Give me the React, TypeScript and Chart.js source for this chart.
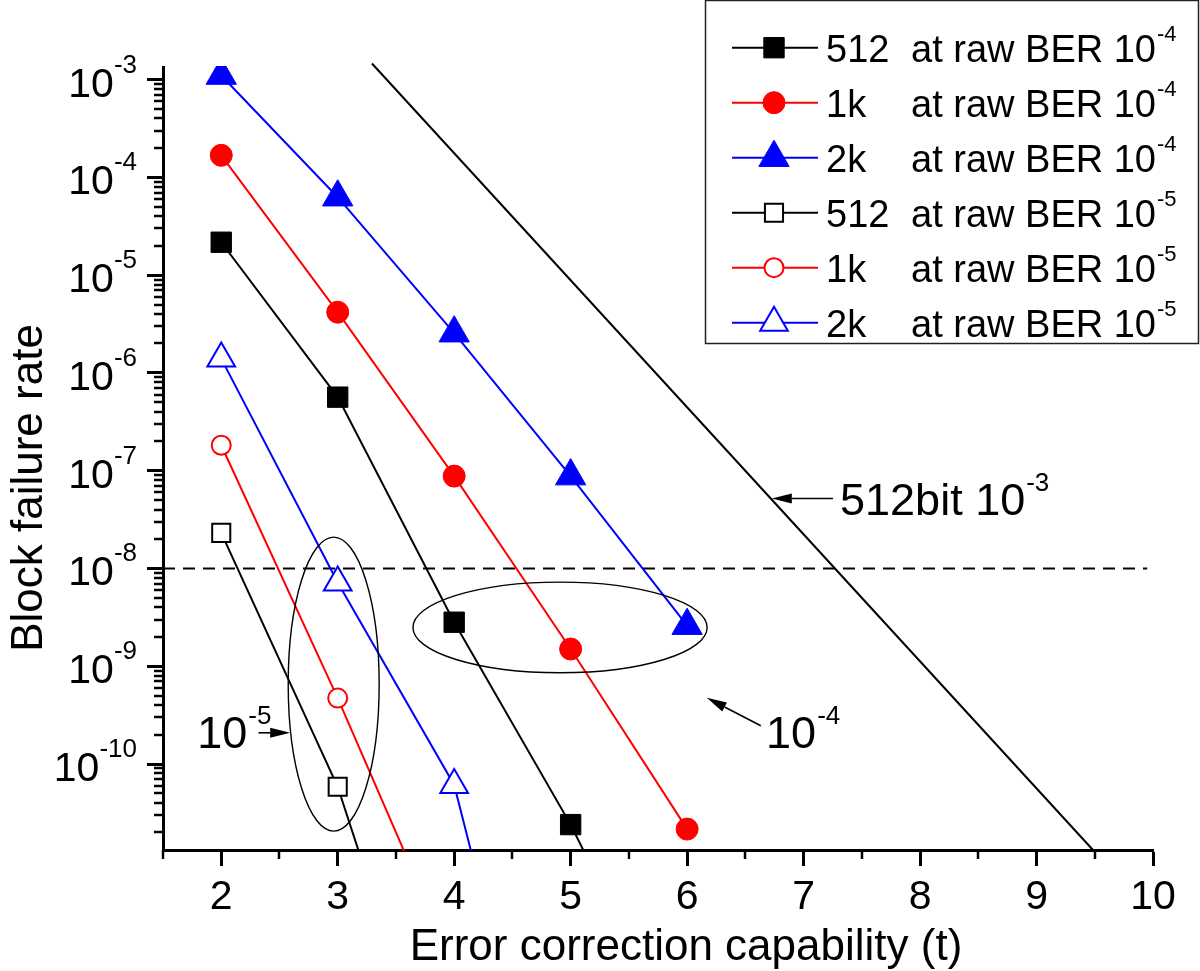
import React, { useEffect, useRef } from 'react';
import { Chart, registerables } from 'chart.js';

Chart.register(...registerables);

const FONT = '"Liberation Sans", Arial, Helvetica, sans-serif';

// ---- data ----
const tValues = [2, 3, 4, 5, 6];
const rate512Ber4 = [2.17e-5, 5.65e-7, 2.82e-9, 2.4e-11, 9.6e-14];
const rate1kBer4 = [1.68e-4, 4.18e-6, 8.8e-8, 1.5e-9, 2.16e-11];
const rate2kBer4 = [1.1e-3, 6.27e-5, 2.55e-6, 8.8e-8, 2.6e-9];
const rate512Ber5 = [2.31e-8, 5.85e-11, 1.3e-14];
const rate1kBer5 = [1.82e-7, 4.72e-10, 8.5e-13];
const rate2kBer5 = [1.4e-6, 7.2e-9, 6.1e-11, 1.3e-15];

const ref512bitT = [3.294, 9.485];
const ref512bitRate = [1.46e-3, 1.32e-11];
const thresholdT = [1.5, 9.95];
const thresholdRate = [1e-8, 1e-8];

const seriesNames = ['512', '1k', '2k', '512', '1k', '2k'];
const seriesBerExp = ['-4', '-4', '-4', '-5', '-5', '-5'];

const yDecadeExps = [-3, -4, -5, -6, -7, -8, -9, -10];
const X_MIN = 1.5;
const X_MAX = 10;
const Y_MIN = 1.32e-11;
const Y_MAX = 1.345e-3;

// annotations in data coordinates (t, log10 rate)
const ellipseT = [[2.575, 3.356], [3.646, 6.172]];
const ellipseLog = [[-7.68, -10.686], [-8.14, -9.067]];
const arrowTailT = [7.253, 6.633, 2.32];
const arrowTailLog = [-7.284, -9.609, -9.681];
const arrowHeadT = [6.727, 6.169, 2.592];
const arrowHeadLog = [-7.284, -9.323, -9.681];
const noteT = [7.313, 6.678, 1.794];
const noteLog = [-7.455, -9.84, -9.84];
const noteMain = ['512bit 10', '10', '10'];
const noteSup = ['-3', '-4', '-5'];

const mk = (xs: number[], ys: number[]) => xs.map((x, i) => ({ x, y: ys[i] }));

function drawMarker(ctx: CanvasRenderingContext2D, style: string, x: number, y: number, r: number, fill: string, stroke: string, lw: number) {
  ctx.beginPath();
  if (style === 'rect') {
    const s = Math.SQRT1_2 * r;
    ctx.rect(x - s, y - s, 2 * s, 2 * s);
  } else if (style === 'triangle') {
    let rad = 0;
    ctx.moveTo(x + Math.sin(rad) * r, y - Math.cos(rad) * r);
    rad += (2 * Math.PI) / 3;
    ctx.lineTo(x + Math.sin(rad) * r, y - Math.cos(rad) * r);
    rad += (2 * Math.PI) / 3;
    ctx.lineTo(x + Math.sin(rad) * r, y - Math.cos(rad) * r);
    ctx.closePath();
  } else {
    ctx.arc(x, y, r, 0, Math.PI * 2);
  }
  ctx.fillStyle = fill;
  ctx.fill();
  ctx.lineWidth = lw;
  ctx.strokeStyle = stroke;
  ctx.stroke();
}

function drawSupText(ctx: CanvasRenderingContext2D, x: number, baseline: number, main: string, sup: string, mainSize: number, supSize: number, supRise: number) {
  ctx.textAlign = 'left';
  ctx.textBaseline = 'alphabetic';
  ctx.font = `${mainSize}px ${FONT}`;
  ctx.fillText(main, x, baseline);
  const w = ctx.measureText(main).width;
  ctx.font = `${supSize}px ${FONT}`;
  ctx.fillText(sup, x + w + 1, baseline - supRise);
}

const decorPlugin = {
  id: 'decor',
  afterDatasetsDraw(chart: any) {
    const ctx: CanvasRenderingContext2D = chart.ctx;
    const xs = chart.scales.x;
    const ys = chart.scales.y;
    ctx.save();
    ctx.strokeStyle = '#000';
    ctx.fillStyle = '#000';
    // ellipses
    ellipseT.forEach((tt, i) => {
      const x1 = xs.getPixelForValue(tt[0]);
      const x2 = xs.getPixelForValue(tt[1]);
      const y1 = ys.getPixelForValue(Math.pow(10, ellipseLog[i][0]));
      const y2 = ys.getPixelForValue(Math.pow(10, ellipseLog[i][1]));
      ctx.beginPath();
      ctx.ellipse((x1 + x2) / 2, (y1 + y2) / 2, Math.abs(x2 - x1) / 2, Math.abs(y2 - y1) / 2, 0, 0, Math.PI * 2);
      ctx.lineWidth = 1.4;
      ctx.stroke();
    });
    // arrows
    arrowTailT.forEach((t, i) => {
      const x1 = xs.getPixelForValue(t);
      const y1 = ys.getPixelForValue(Math.pow(10, arrowTailLog[i]));
      const x2 = xs.getPixelForValue(arrowHeadT[i]);
      const y2 = ys.getPixelForValue(Math.pow(10, arrowHeadLog[i]));
      const ang = Math.atan2(y2 - y1, x2 - x1);
      const L = 20;
      const H = 5;
      const bx = x2 - Math.cos(ang) * L;
      const by = y2 - Math.sin(ang) * L;
      ctx.beginPath();
      ctx.moveTo(x1, y1);
      ctx.lineTo(bx, by);
      ctx.lineWidth = 1.6;
      ctx.stroke();
      ctx.beginPath();
      ctx.moveTo(x2, y2);
      ctx.lineTo(bx - Math.sin(ang) * H, by + Math.cos(ang) * H);
      ctx.lineTo(bx + Math.sin(ang) * H, by - Math.cos(ang) * H);
      ctx.closePath();
      ctx.fill();
    });
    // notes
    noteT.forEach((t, i) => {
      const x = xs.getPixelForValue(t);
      const y = ys.getPixelForValue(Math.pow(10, noteLog[i]));
      drawSupText(ctx, x, y, noteMain[i], noteSup[i], 45, 26, 24);
    });
    ctx.restore();
  },
  afterDraw(chart: any) {
    const ctx: CanvasRenderingContext2D = chart.ctx;
    const xs = chart.scales.x;
    const ys = chart.scales.y;
    const area = chart.chartArea;
    ctx.save();
    ctx.strokeStyle = '#000';
    ctx.fillStyle = '#000';
    ctx.lineWidth = 2.5;
    // minor ticks
    xs.ticks.forEach((tk: any) => {
      if (!Number.isInteger(tk.value)) {
        const px = Math.round(xs.getPixelForValue(tk.value));
        ctx.beginPath();
        ctx.moveTo(px, area.bottom);
        ctx.lineTo(px, area.bottom + 9);
        ctx.stroke();
      }
    });
    ys.ticks.forEach((tk: any) => {
      const lg = Math.log10(tk.value);
      if (Math.abs(lg - Math.round(lg)) > 1e-6) {
        const py = Math.round(ys.getPixelForValue(tk.value));
        ctx.beginPath();
        ctx.moveTo(area.left, py);
        ctx.lineTo(area.left - 9, py);
        ctx.stroke();
      }
    });
    // y tick labels with superscripts
    yDecadeExps.forEach((e) => {
      const py = ys.getPixelForValue(Math.pow(10, e));
      const sup = String(e);
      ctx.font = `26px ${FONT}`;
      const sw = ctx.measureText(sup).width;
      const right = 137;
      ctx.textBaseline = 'alphabetic';
      ctx.textAlign = 'left';
      ctx.fillText(sup, right - sw, py + 17 - 24);
      ctx.font = `41px ${FONT}`;
      ctx.textAlign = 'right';
      ctx.fillText('10', right - sw, py + 17);
    });
    // axis titles
    ctx.textAlign = 'center';
    ctx.textBaseline = 'alphabetic';
    ctx.font = `44px ${FONT}`;
    ctx.fillText('Error correction capability (t)', 686, 960);
    ctx.save();
    ctx.translate(42, 488);
    ctx.rotate(-Math.PI / 2);
    ctx.fillText('Block failure rate', 0, 0);
    ctx.restore();
    // legend
    ctx.lineWidth = 1.5;
    ctx.strokeStyle = '#222';
    ctx.strokeRect(705.5, 0.5, 493, 343);
    const ds = chart.data.datasets;
    seriesNames.forEach((name, i) => {
      const d = ds[i];
      const y = 47.7 + 55 * i;
      ctx.beginPath();
      ctx.moveTo(732, y);
      ctx.lineTo(818, y);
      ctx.lineWidth = d.borderWidth;
      ctx.strokeStyle = d.borderColor;
      ctx.stroke();
      drawMarker(ctx, d.pointStyle, 774, y, d.pointRadius, d.pointBackgroundColor, d.pointBorderColor, d.pointBorderWidth);
      ctx.fillStyle = '#000';
      ctx.textAlign = 'left';
      ctx.font = `38px ${FONT}`;
      ctx.fillText(name, 826, y + 14);
      drawSupText(ctx, 911, y + 14, 'at raw BER 10', seriesBerExp[i], 38, 22, 21);
    });
    ctx.restore();
  },
};

export default function App() {
  const ref = useRef<HTMLCanvasElement>(null);
  useEffect(() => {
    if (!ref.current) return;
    const black = '#000000';
    const red = '#ff0000';
    const blue = '#0000ff';
    const chart = new Chart(ref.current, {
      type: 'scatter',
      data: {
        datasets: [
          { label: '512 at raw BER 10^-4', data: mk(tValues, rate512Ber4), showLine: true, clip: 1, borderColor: black, borderWidth: 2, pointStyle: 'rect', pointRadius: 14.4, pointBackgroundColor: black, pointBorderColor: black, pointBorderWidth: 1 },
          { label: '1k at raw BER 10^-4', data: mk(tValues, rate1kBer4), showLine: true, clip: 1, borderColor: red, borderWidth: 2, pointStyle: 'circle', pointRadius: 11, pointBackgroundColor: red, pointBorderColor: red, pointBorderWidth: 1 },
          { label: '2k at raw BER 10^-4', data: mk(tValues, rate2kBer4), showLine: true, clip: 1, borderColor: blue, borderWidth: 2, pointStyle: 'triangle', pointRadius: 17.5, pointBackgroundColor: blue, pointBorderColor: blue, pointBorderWidth: 1 },
          { label: '512 at raw BER 10^-5', data: mk(tValues, rate512Ber5), showLine: true, clip: 1, borderColor: black, borderWidth: 2, pointStyle: 'rect', pointRadius: 12.8, pointBackgroundColor: '#ffffff', pointBorderColor: black, pointBorderWidth: 2 },
          { label: '1k at raw BER 10^-5', data: mk(tValues, rate1kBer5), showLine: true, clip: 1, borderColor: red, borderWidth: 2, pointStyle: 'circle', pointRadius: 9.5, pointBackgroundColor: '#ffffff', pointBorderColor: red, pointBorderWidth: 2 },
          { label: '2k at raw BER 10^-5', data: mk(tValues, rate2kBer5), showLine: true, clip: 1, borderColor: blue, borderWidth: 2, pointStyle: 'triangle', pointRadius: 16, pointBackgroundColor: '#ffffff', pointBorderColor: blue, pointBorderWidth: 2 },
          { label: '512bit 10^-3', data: mk(ref512bitT, ref512bitRate), showLine: true, borderColor: black, borderWidth: 2, pointRadius: 0, clip: false } as any,
          { label: '1e-8 threshold', data: mk(thresholdT, thresholdRate), showLine: true, clip: 1, borderColor: black, borderWidth: 2, borderDash: [12, 8], pointRadius: 0 },
        ],
      },
      options: {
        animation: false,
        responsive: false,
        devicePixelRatio: 1,
        events: [],
        layout: { padding: { top: 67, right: 47, left: 0, bottom: 0 } },
        plugins: { legend: { display: false }, tooltip: { enabled: false }, title: { display: false } },
        scales: {
          x: {
            type: 'linear',
            min: X_MIN,
            max: X_MAX,
            afterFit: (s: any) => { s.height = 121; },
            ticks: {
              stepSize: 0.5,
              autoSkip: false,
              maxRotation: 0,
              padding: 7,
              color: '#000',
              font: { family: FONT, size: 41 },
              callback: (v: any) => (Number.isInteger(Number(v)) ? String(v) : ''),
            },
            grid: {
              drawOnChartArea: false,
              drawTicks: true,
              tickLength: 16,
              tickWidth: 3,
              tickColor: (c: any) => (c.tick && Number.isInteger(c.tick.value) ? '#000' : 'rgba(0,0,0,0)'),
            },
            border: { display: true, color: '#000', width: 3 },
          },
          y: {
            type: 'logarithmic',
            min: Y_MIN,
            max: Y_MAX,
            afterFit: (s: any) => { s.width = 163; },
            afterBuildTicks: (s: any) => {
              const out: any[] = [];
              for (let e = -11; e <= -3; e++) {
                for (let k = 1; k <= 9; k++) {
                  const v = k * Math.pow(10, e);
                  if (v >= Y_MIN && v <= Y_MAX) out.push({ value: v, major: k === 1 });
                }
              }
              s.ticks = out;
            },
            ticks: { display: false },
            grid: {
              drawOnChartArea: false,
              drawTicks: true,
              tickLength: 16,
              tickWidth: 3,
              tickColor: (c: any) => {
                if (!c.tick) return 'rgba(0,0,0,0)';
                const lg = Math.log10(c.tick.value);
                return Math.abs(lg - Math.round(lg)) < 1e-6 ? '#000' : 'rgba(0,0,0,0)';
              },
            },
            border: { display: true, color: '#000', width: 3 },
          },
        },
      },
      plugins: [decorPlugin],
    } as any);
    return () => chart.destroy();
  }, []);
  return (
    <div style={{ position: 'absolute', left: 0, top: 0, width: 1200, height: 971, background: '#fff' }}>
      <canvas ref={ref} width={1200} height={971} style={{ width: 1200, height: 971, display: 'block' }} />
    </div>
  );
}
